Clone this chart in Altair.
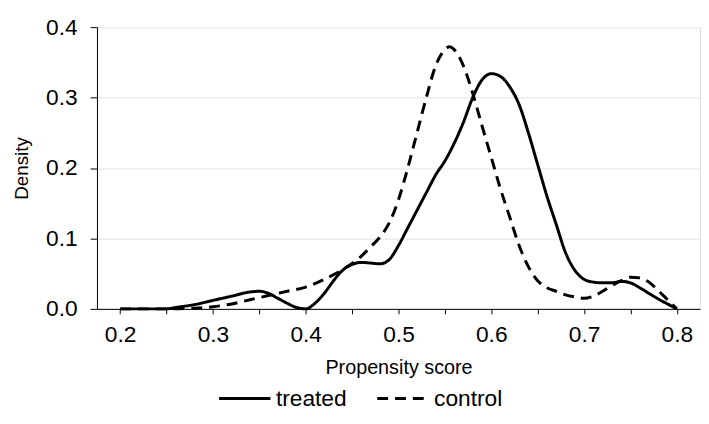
import altair as alt
import pandas as pd

treated_x = [0.20, 0.25, 0.26, 0.28, 0.30, 0.32, 0.34, 0.35, 0.36, 0.37, 0.38, 0.39, 0.40,
             0.41, 0.42, 0.43, 0.44, 0.45, 0.46, 0.47, 0.48, 0.49, 0.50, 0.51, 0.52, 0.53,
             0.54, 0.55, 0.56, 0.57, 0.58, 0.59, 0.60, 0.61, 0.62, 0.63, 0.64, 0.65, 0.66,
             0.67, 0.68, 0.69, 0.70, 0.71, 0.72, 0.73, 0.74, 0.75, 0.76, 0.77, 0.78, 0.79, 0.80]
treated_y = [0.000, 0.000, 0.002, 0.006, 0.012, 0.018, 0.024, 0.025, 0.022, 0.015, 0.008, 0.002, 0.000,
             0.008, 0.022, 0.040, 0.055, 0.063, 0.066, 0.065, 0.064, 0.070, 0.090, 0.115, 0.140, 0.165,
             0.190, 0.210, 0.235, 0.265, 0.300, 0.325, 0.334, 0.330, 0.315, 0.290, 0.250, 0.205, 0.160,
             0.120, 0.080, 0.055, 0.042, 0.038, 0.037, 0.037, 0.039, 0.037, 0.030, 0.022, 0.014, 0.007, 0.000]

control_x = [0.20, 0.25, 0.28, 0.30, 0.32, 0.34, 0.36, 0.38, 0.40, 0.42, 0.44, 0.46, 0.47, 0.48,
             0.49, 0.50, 0.51, 0.52, 0.53, 0.54, 0.55, 0.555, 0.56, 0.57, 0.58, 0.59, 0.60, 0.61,
             0.62, 0.63, 0.64, 0.65, 0.66, 0.67, 0.68, 0.69, 0.70, 0.71, 0.72, 0.73, 0.74, 0.75,
             0.76, 0.77, 0.78, 0.79, 0.80]
control_y = [0.000, 0.000, 0.001, 0.003, 0.007, 0.013, 0.019, 0.025, 0.031, 0.042, 0.056, 0.075, 0.088, 0.102,
             0.122, 0.155, 0.200, 0.250, 0.300, 0.345, 0.368, 0.372, 0.368, 0.345, 0.306, 0.260, 0.215, 0.170,
             0.130, 0.090, 0.060, 0.040, 0.030, 0.025, 0.020, 0.017, 0.015, 0.018, 0.025, 0.033, 0.040, 0.045,
             0.044, 0.038, 0.026, 0.013, 0.000]

groups = ["treated", "control"]

df = pd.concat([
    pd.DataFrame({"score": treated_x, "density": treated_y, "group": groups[0]}),
    pd.DataFrame({"score": control_x, "density": control_y, "group": groups[1]}),
])

FONT = "Liberation Sans"
x_ticks = [round(0.2 + 0.05 * i, 2) for i in range(13)]

chart = alt.Chart(df).mark_line(
    interpolate="monotone", strokeWidth=3, color="black"
).encode(
    x=alt.X("score:Q", scale=alt.Scale(domain=[0.175, 0.825], nice=False, zero=False),
            axis=alt.Axis(title="Propensity score", values=x_ticks,
                          labelExpr="(round(datum.value*100) % 10 == 0) ? format(datum.value, '.1f') : ''",
                          grid=False, tickSize=5, labelPadding=10, titlePadding=11,
                          labelFontSize=23, titleFontSize=20, domainColor="black", tickColor="black",
                          labelColor="black", titleColor="black", titleFontWeight="normal",
                          labelFlush=False)),
    y=alt.Y("density:Q", scale=alt.Scale(domain=[0, 0.4], nice=False),
            axis=alt.Axis(title="Density", values=[0, 0.1, 0.2, 0.3, 0.4], format=".1f",
                          tickSize=7, labelPadding=13, titlePadding=14,
                          labelFontSize=23, titleFontSize=19, domainColor="black", tickColor="black",
                          labelColor="black", titleColor="black", titleFontWeight="normal",
                          gridColor="#ececec", gridWidth=1.5)),
    strokeDash=alt.StrokeDash("group:N",
                              scale=alt.Scale(domain=groups, range=[[1, 0], [11, 7]]),
                              legend=alt.Legend(title=None, orient="none", direction="horizontal",
                                                legendX=122, legendY=348, symbolType="stroke",
                                                symbolSize=2700, symbolStrokeWidth=3,
                                                symbolStrokeColor="black", labelFontSize=23,
                                                labelColor="black", labelOffset=4,
                                                columnPadding=24)),
).properties(
    width=610, height=285,
    padding={"left": 90, "top": 17, "right": 1, "bottom": 106},
    autosize=alt.AutoSizeParams(type="none"),
).configure_view(stroke=None).configure(font=FONT)

chart.save("out.html", embed_options={"renderer": "svg", "actions": False})
